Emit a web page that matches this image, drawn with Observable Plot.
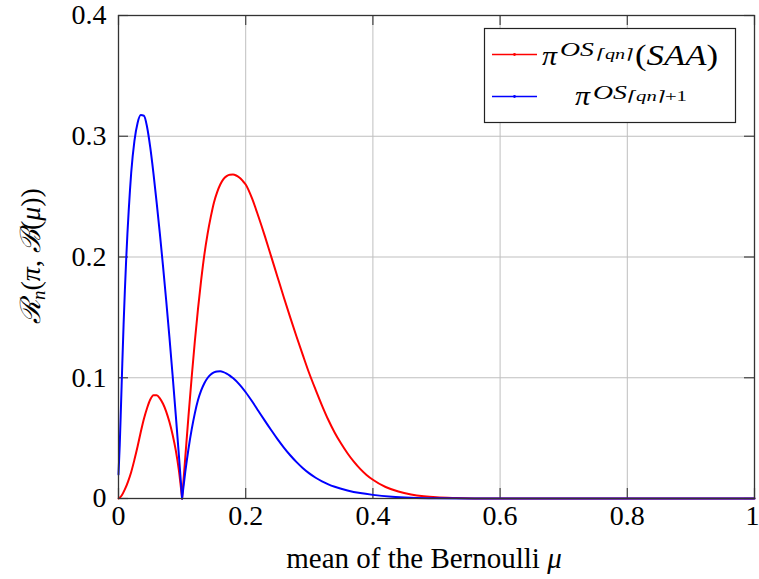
<!DOCTYPE html>
<html><head><meta charset="utf-8">
<script src="https://cdn.jsdelivr.net/npm/d3@7"></script>
<script src="https://cdn.jsdelivr.net/npm/@observablehq/plot@0.6"></script>
<style>body{margin:0;background:#fff} #chart{position:relative;width:759px;height:579px}
#chart svg text{font-family:'Liberation Serif','DejaVu Serif',serif}</style>
</head><body><div id="chart"></div>
<script>
// ---- data ----
const xTicks = [0, 0.2, 0.4, 0.6, 0.8, 1];
const yTicks = [0, 0.1, 0.2, 0.3, 0.4];
const seriesNames = ["SAA", "plus1"];
const seriesColors = ["#ff0000", "#0000ff"];

// red: pi^{OS_{ceil(qn)}} (SAA): left of the cusp at 0.1, then right of it
const redMu1 = [0,0.005,0.01,0.015,0.02,0.025,0.03,0.035,0.04,0.045,0.05,0.055,0.06,0.065,0.07,0.075,0.08,0.085,0.09,0.095,0.1];
const redVal1 = [0,0.0025,0.0075,0.014,0.022,0.032,0.043,0.055,0.066,0.075,0.082,0.0855,0.0855,0.083,0.0785,0.072,0.0635,0.053,0.040,0.023,0];
const redMu2 = [0.1,0.105,0.11,0.115,0.12,0.125,0.13,0.135,0.14,0.145,0.15,0.155,0.16,0.165,0.17,0.175,0.18,0.185,0.19,0.195,0.2,0.21,0.22,0.23,0.24,0.25,0.26,0.27,0.28,0.29,0.3,0.31,0.32,0.33,0.34,0.35,0.36,0.37,0.38,0.39,0.4,0.42,0.44,0.46,0.48,0.5,0.53,0.56,0.6,0.7,0.8,0.9,1.0];
const redVal2 = [0,0.034,0.068,0.100,0.130,0.157,0.181,0.202,0.219,0.233,0.245,0.2535,0.260,0.2645,0.267,0.2682,0.2683,0.2675,0.2658,0.2632,0.260,0.2485,0.2335,0.2175,0.2005,0.1835,0.1665,0.150,0.134,0.1185,0.1035,0.090,0.077,0.065,0.0545,0.0455,0.0375,0.0305,0.0245,0.0195,0.0155,0.0095,0.0058,0.0034,0.0019,0.001,0.0004,0.0001,0,0,0,0,0];

// blue: pi^{OS_{ceil(qn)+1}}
const blueMu1 = [0,0.002,0.004,0.006,0.008,0.01,0.012,0.014,0.016,0.018,0.02,0.025,0.03,0.035,0.04,0.045,0.05,0.055,0.06,0.065,0.07,0.075,0.08,0.085,0.09,0.095,0.1];
const blueVal1 = [0.02,0.045,0.078,0.112,0.144,0.172,0.197,0.219,0.238,0.255,0.270,0.296,0.311,0.3175,0.317,0.3075,0.2905,0.269,0.245,0.2195,0.1925,0.164,0.134,0.1025,0.0695,0.0355,0];
const blueMu2 = [0.1,0.105,0.11,0.115,0.12,0.125,0.13,0.135,0.14,0.145,0.15,0.155,0.16,0.165,0.17,0.175,0.18,0.19,0.2,0.21,0.22,0.23,0.24,0.25,0.26,0.27,0.28,0.29,0.3,0.31,0.32,0.33,0.34,0.36,0.38,0.4,0.43,0.46,0.5,0.55,0.6,0.7,0.8,0.9,1];
const blueVal2 = [0,0.022,0.041,0.057,0.0705,0.0815,0.0895,0.0955,0.0998,0.1027,0.1044,0.1052,0.1053,0.1047,0.1035,0.1018,0.0997,0.0945,0.088,0.0805,0.0725,0.0645,0.0567,0.0492,0.0422,0.0358,0.0301,0.0251,0.0208,0.0172,0.0142,0.0117,0.0097,0.0067,0.0045,0.003,0.0015,0.0007,0.0002,0,0,0,0,0,0];

// ---- build table ----
const rows = [];
function addSeg(series, seg, mus, vals) {
  mus.forEach((m, i) => rows.push({series, seg: series + seg, mu: m, v: vals[i]}));
}
addSeg("SAA", 1, redMu1, redVal1);
addSeg("SAA", 2, redMu2, redVal2);
addSeg("plus1", 1, blueMu1, blueVal1);
addSeg("plus1", 2, blueMu2, blueVal2);

const W = 759, H = 579, ML = 118, MR = 5, MT = 15, MB = 81;
const FONT = "'Liberation Serif', 'DejaVu Serif', serif";
const tickLenX = 10 / (H - MT - MB) * 0.4;
const tickLenY = 10 / (W - ML - MR);
const fmt = d => String(d);

const plot = Plot.plot({
  width: W, height: H,
  marginLeft: ML, marginRight: MR, marginTop: MT, marginBottom: MB,
  style: {fontFamily: FONT, fontSize: "28px", background: "#fff", color: "#000"},
  x: {domain: [0, 1]},
  y: {domain: [0, 0.4]},
  color: {domain: seriesNames, range: seriesColors},
  marks: [
    Plot.gridX(xTicks.slice(1, -1), {stroke: "#bfbfbf", strokeOpacity: 1, strokeWidth: 1}),
    Plot.gridY(yTicks.slice(1, -1), {stroke: "#bfbfbf", strokeOpacity: 1, strokeWidth: 1}),
    Plot.ruleX(xTicks, {y1: 0, y2: tickLenX, stroke: "#444", strokeWidth: 1.2}),
    Plot.ruleX(xTicks, {y1: 0.4, y2: 0.4 - tickLenX, stroke: "#444", strokeWidth: 1.2}),
    Plot.ruleY(yTicks, {x1: 0, x2: tickLenY, stroke: "#444", strokeWidth: 1.2}),
    Plot.ruleY(yTicks, {x1: 1, x2: 1 - tickLenY, stroke: "#444", strokeWidth: 1.2}),
    Plot.line(rows, {x: "mu", y: "v", z: "seg", stroke: "series", curve: "monotone-x", strokeWidth: 2}),
    Plot.frame({stroke: "#333", strokeWidth: 1.3}),
    Plot.axisX(xTicks.slice(0, -1), {tickSize: 0, tickPadding: 7, tickFormat: fmt, fontSize: 28, fontFamily: FONT, label: null}),
    Plot.text(xTicks.slice(-1), {x: d => d, y: 0, text: fmt, textAnchor: "end", lineAnchor: "top", dx: 5, dy: 7, fontSize: 28, fontFamily: FONT}),
    Plot.axisY(yTicks, {tickSize: 0, tickPadding: 12, tickFormat: fmt, fontSize: 28, fontFamily: FONT, label: null})
  ]
});
document.getElementById("chart").appendChild(plot);

// ---- labels and legend drawn into the same svg ----
const svg = d3.select(plot);
const g = svg.append("g").attr("font-family", FONT).attr("fill", "#000").attr("text-anchor", "start");

// x label
const xl = g.append("text").attr("x", 424).attr("y", 568).attr("text-anchor", "middle").attr("font-size", 29);
xl.append("tspan").text("mean of the Bernoulli ");
xl.append("tspan").attr("font-style", "italic").text("μ");

// y label
const yl = g.append("text").attr("transform", "translate(40,256) rotate(-90)").attr("text-anchor", "middle").attr("font-size", 28);
yl.append("tspan").attr("font-style", "italic").text("ℛ");
yl.append("tspan").attr("font-style", "italic").attr("font-size", 19).attr("dy", 5).text("n");
yl.append("tspan").attr("dy", -5).text("(");
yl.append("tspan").attr("font-style", "italic").text("π");
yl.append("tspan").text(", ");
yl.append("tspan").attr("font-style", "italic").text("ℬ");
yl.append("tspan").text("(");
yl.append("tspan").attr("font-style", "italic").text("μ");
yl.append("tspan").text("))");

// legend
const lg = g.append("g");
lg.append("rect").attr("x", 484.5).attr("y", 28.5).attr("width", 251).attr("height", 94)
  .attr("fill", "#fff").attr("stroke", "#222").attr("stroke-width", 1.2);

function piece(x, y, size, len, txt, italic) {
  const t = lg.append("text").attr("x", x).attr("y", y).attr("font-size", size)
    .attr("textLength", len).attr("lengthAdjust", "spacingAndGlyphs").text(txt);
  if (italic) t.attr("font-style", "italic");
  return t;
}
// red entry
lg.append("line").attr("x1", 492).attr("x2", 537).attr("y1", 54.5).attr("y2", 54.5).attr("stroke", seriesColors[0]).attr("stroke-width", 1.4);
lg.append("circle").attr("cx", 514.5).attr("cy", 54.5).attr("r", 1.4).attr("fill", seriesColors[0]);
piece(542, 65, 28, 15, "π", true);
piece(560, 56, 19, 34, "OS", true);
piece(597, 59, 14, 36, "⌈qn⌉", true);
const tail = lg.append("text").attr("x", 635).attr("y", 65).attr("font-size", 29)
  .attr("textLength", 83).attr("lengthAdjust", "spacingAndGlyphs");
tail.append("tspan").text("(");
tail.append("tspan").attr("font-style", "italic").text("SAA");
tail.append("tspan").text(")");
// blue entry
lg.append("line").attr("x1", 492).attr("x2", 537).attr("y1", 96.5).attr("y2", 96.5).attr("stroke", seriesColors[1]).attr("stroke-width", 1.4);
lg.append("circle").attr("cx", 514.5).attr("cy", 96.5).attr("r", 1.4).attr("fill", seriesColors[1]);
piece(575, 105, 28, 15, "π", true);
piece(593, 99, 19, 34, "OS", true);
const sb = lg.append("text").attr("x", 628).attr("y", 101).attr("font-size", 14)
  .attr("textLength", 59).attr("lengthAdjust", "spacingAndGlyphs");
sb.append("tspan").attr("font-style", "italic").text("⌈qn⌉");
sb.append("tspan").text("+1");
</script>
</body></html>
